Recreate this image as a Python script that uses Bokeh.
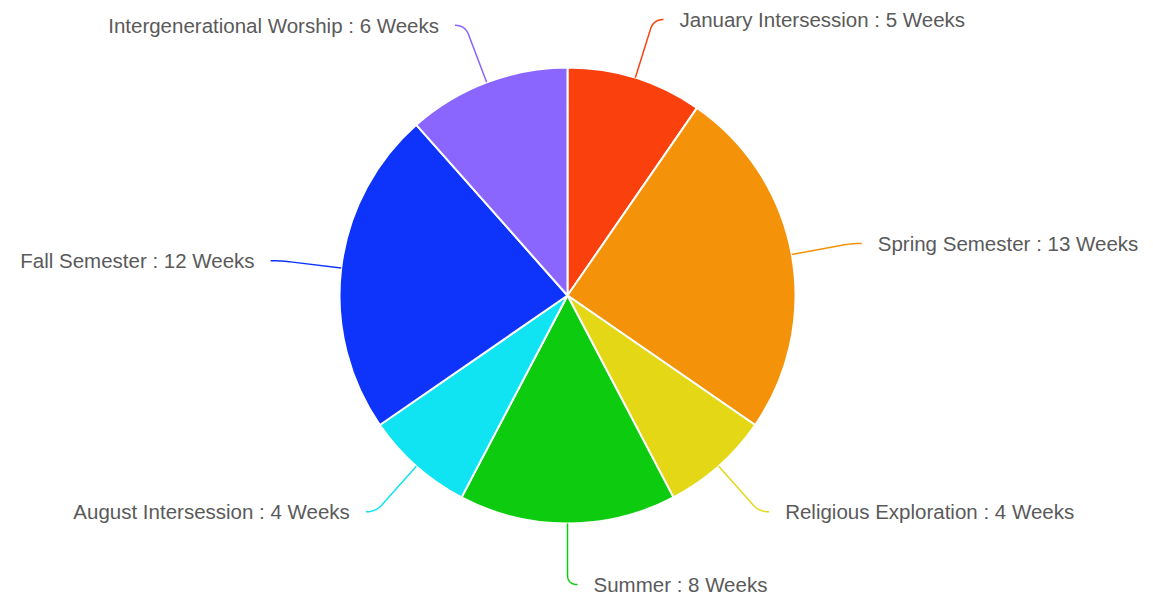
import math
import numpy as np
from bokeh.plotting import figure
from bokeh.models import Range1d, ColumnDataSource
from bokeh.core.properties import value
from bokeh.embed import file_html
from bokeh.resources import INLINE

# ---- data ----
categories = ["January Intersession", "Spring Semester", "Religious Exploration",
              "Summer", "August Intersession", "Fall Semester", "Intergenerational Worship"]
weeks = [5, 13, 4, 8, 4, 12, 6]
colors = ["#FA400C", "#F4930A", "#E4D816", "#0DCC10", "#10E4F2", "#0E33FA", "#8A66FE"]

# ---- layout ----
W, H = 1153, 601
CX, CY = 567, H - 295      # pie centre (data units = px, y up)
R = 228                    # pie radius
R_LABEL = 289              # label ring radius
ELBOW = 10
TEXT_GAP = 16

p = figure(width=W, height=H, output_backend="svg", toolbar_location=None,
           x_range=Range1d(0, W), y_range=Range1d(0, H), min_border=0)
p.axis.visible = False
p.grid.visible = False
p.outline_line_color = None
p.background_fill_color = "white"

total = float(sum(weeks))
fr = np.cumsum([0] + weeks) / total
starts = [math.pi / 2 - 2 * math.pi * fr[i + 1] for i in range(len(weeks))]
ends = [math.pi / 2 - 2 * math.pi * fr[i] for i in range(len(weeks))]

src = ColumnDataSource(dict(start=starts, end=ends, color=colors))
p.wedge(x=CX, y=CY, radius=R, start_angle="start", end_angle="end",
        fill_color="color", line_color="white", line_width=2, source=src)

tx, ty, tt, ta = [], [], [], []
for i, (name, w) in enumerate(zip(categories, weeks)):
    mid = (fr[i] + fr[i + 1]) / 2 * 2 * math.pi  # clockwise from top
    s, c = math.sin(mid), math.cos(mid)
    sign = 1 if s >= -1e-6 else -1
    p0 = np.array([CX + R * s, CY + R * c])
    corner = np.array([CX + R_LABEL * s, CY + R_LABEL * c])
    end = corner + np.array([sign * ELBOW, 0])
    d = corner - p0
    d = d / np.linalg.norm(d)
    before = corner - d * ELBOW
    t = np.linspace(0, 1, 20)
    qx = (1 - t) ** 2 * before[0] + 2 * (1 - t) * t * corner[0] + t ** 2 * end[0]
    qy = (1 - t) ** 2 * before[1] + 2 * (1 - t) * t * corner[1] + t ** 2 * end[1]
    xs = [p0[0]] + list(qx)
    ys = [p0[1]] + list(qy)
    p.line(xs, ys, line_color=colors[i], line_width=1.5)
    tx.append(end[0] + sign * TEXT_GAP)
    ty.append(end[1])
    tt.append(f"{name} : {w} Weeks")
    ta.append("left" if sign > 0 else "right")

tsrc = ColumnDataSource(dict(x=tx, y=ty, text=tt, align=ta))
p.text(x="x", y="y", text="text", text_align="align", text_baseline="middle",
       text_font=value("Liberation Sans"), text_font_size="20.5px",
       text_color="#5a5a5a", source=tsrc)

open("out.html", "w").write(file_html(p, INLINE))
